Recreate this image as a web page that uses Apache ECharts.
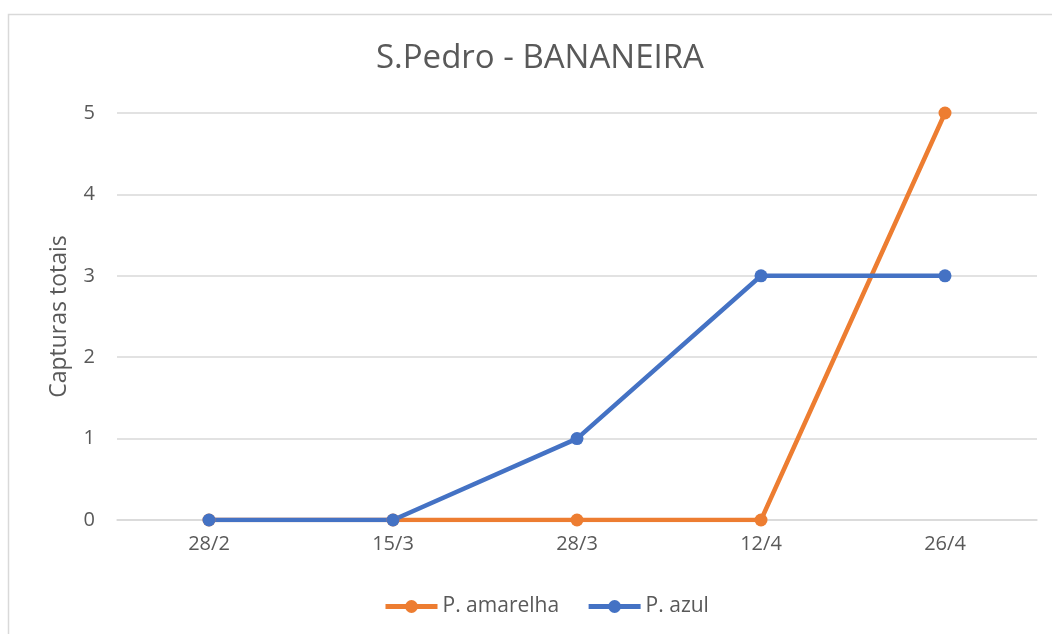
<!DOCTYPE html>
<html>
<head>
<meta charset="utf-8">
<script src="https://cdn.jsdelivr.net/npm/echarts@6/dist/echarts.min.js"></script>
<style>
  html, body { margin: 0; padding: 0; background: #fff; }
  #chart { width: 1052px; height: 634px; }
</style>
</head>
<body>
<div id="chart"></div>
<script>
const categories = ['28/2', '15/3', '28/3', '12/4', '26/4'];
const amarelha = [0, 0, 0, 0, 5];
const azul = [0, 0, 1, 3, 3];

const chart = echarts.init(document.getElementById('chart'));

const font = "'Open Sans', 'Noto Sans', sans-serif";

const option = {
  backgroundColor: '#fff',
  animation: false,
  textStyle: { fontFamily: font },
  graphic: [
    {
      type: 'rect',
      shape: { x: 8.5, y: 14.5, width: 1100, height: 700 },
      style: { fill: 'none', stroke: '#d9d9d9', lineWidth: 1.5 },
      silent: true
    }
  ],
  title: {
    text: 'S.Pedro - BANANEIRA',
    left: 371,
    top: 37,
    textStyle: { fontFamily: font, fontSize: 33, fontWeight: 'normal', color: '#595959' }
  },
  legend: {
    bottom: 12,
    left: 378,
    itemWidth: 52,
    itemHeight: 16,
    itemGap: 27,
    lineStyle: { width: 5 },
    textStyle: { fontFamily: font, fontSize: 21, color: '#595959' },
    data: ['P. amarelha', 'P. azul']
  },
  grid: {
    left: 117,
    right: 15,
    top: 113,
    bottom: 114,
    containLabel: false
  },
  xAxis: {
    type: 'category',
    data: categories,
    boundaryGap: true,
    axisLine: { lineStyle: { color: '#d9d9d9', width: 1.5 } },
    axisTick: { show: false },
    axisLabel: { fontFamily: font, fontSize: 20, color: '#595959', margin: 14 }
  },
  yAxis: {
    type: 'value',
    min: 0,
    max: 5,
    interval: 1,
    name: 'Capturas totais',
    nameLocation: 'middle',
    nameGap: 46,
    nameTextStyle: { fontFamily: font, fontSize: 23, color: '#595959' },
    axisLine: { show: false },
    axisTick: { show: false },
    axisLabel: { fontFamily: font, fontSize: 20, color: '#595959', margin: 22 },
    splitLine: { lineStyle: { color: '#d9d9d9', width: 1.5 } }
  },
  series: [
    {
      name: 'P. amarelha',
      type: 'line',
      data: amarelha,
      symbol: 'circle',
      symbolSize: 13,
      color: '#ed7d31',
      lineStyle: { width: 4.5, color: '#ed7d31' },
      itemStyle: { color: '#ed7d31' }
    },
    {
      name: 'P. azul',
      type: 'line',
      data: azul,
      symbol: 'circle',
      symbolSize: 13,
      color: '#4472c4',
      lineStyle: { width: 4.5, color: '#4472c4' },
      itemStyle: { color: '#4472c4' }
    }
  ]
};

chart.setOption(option);
</script>
</body>
</html>
